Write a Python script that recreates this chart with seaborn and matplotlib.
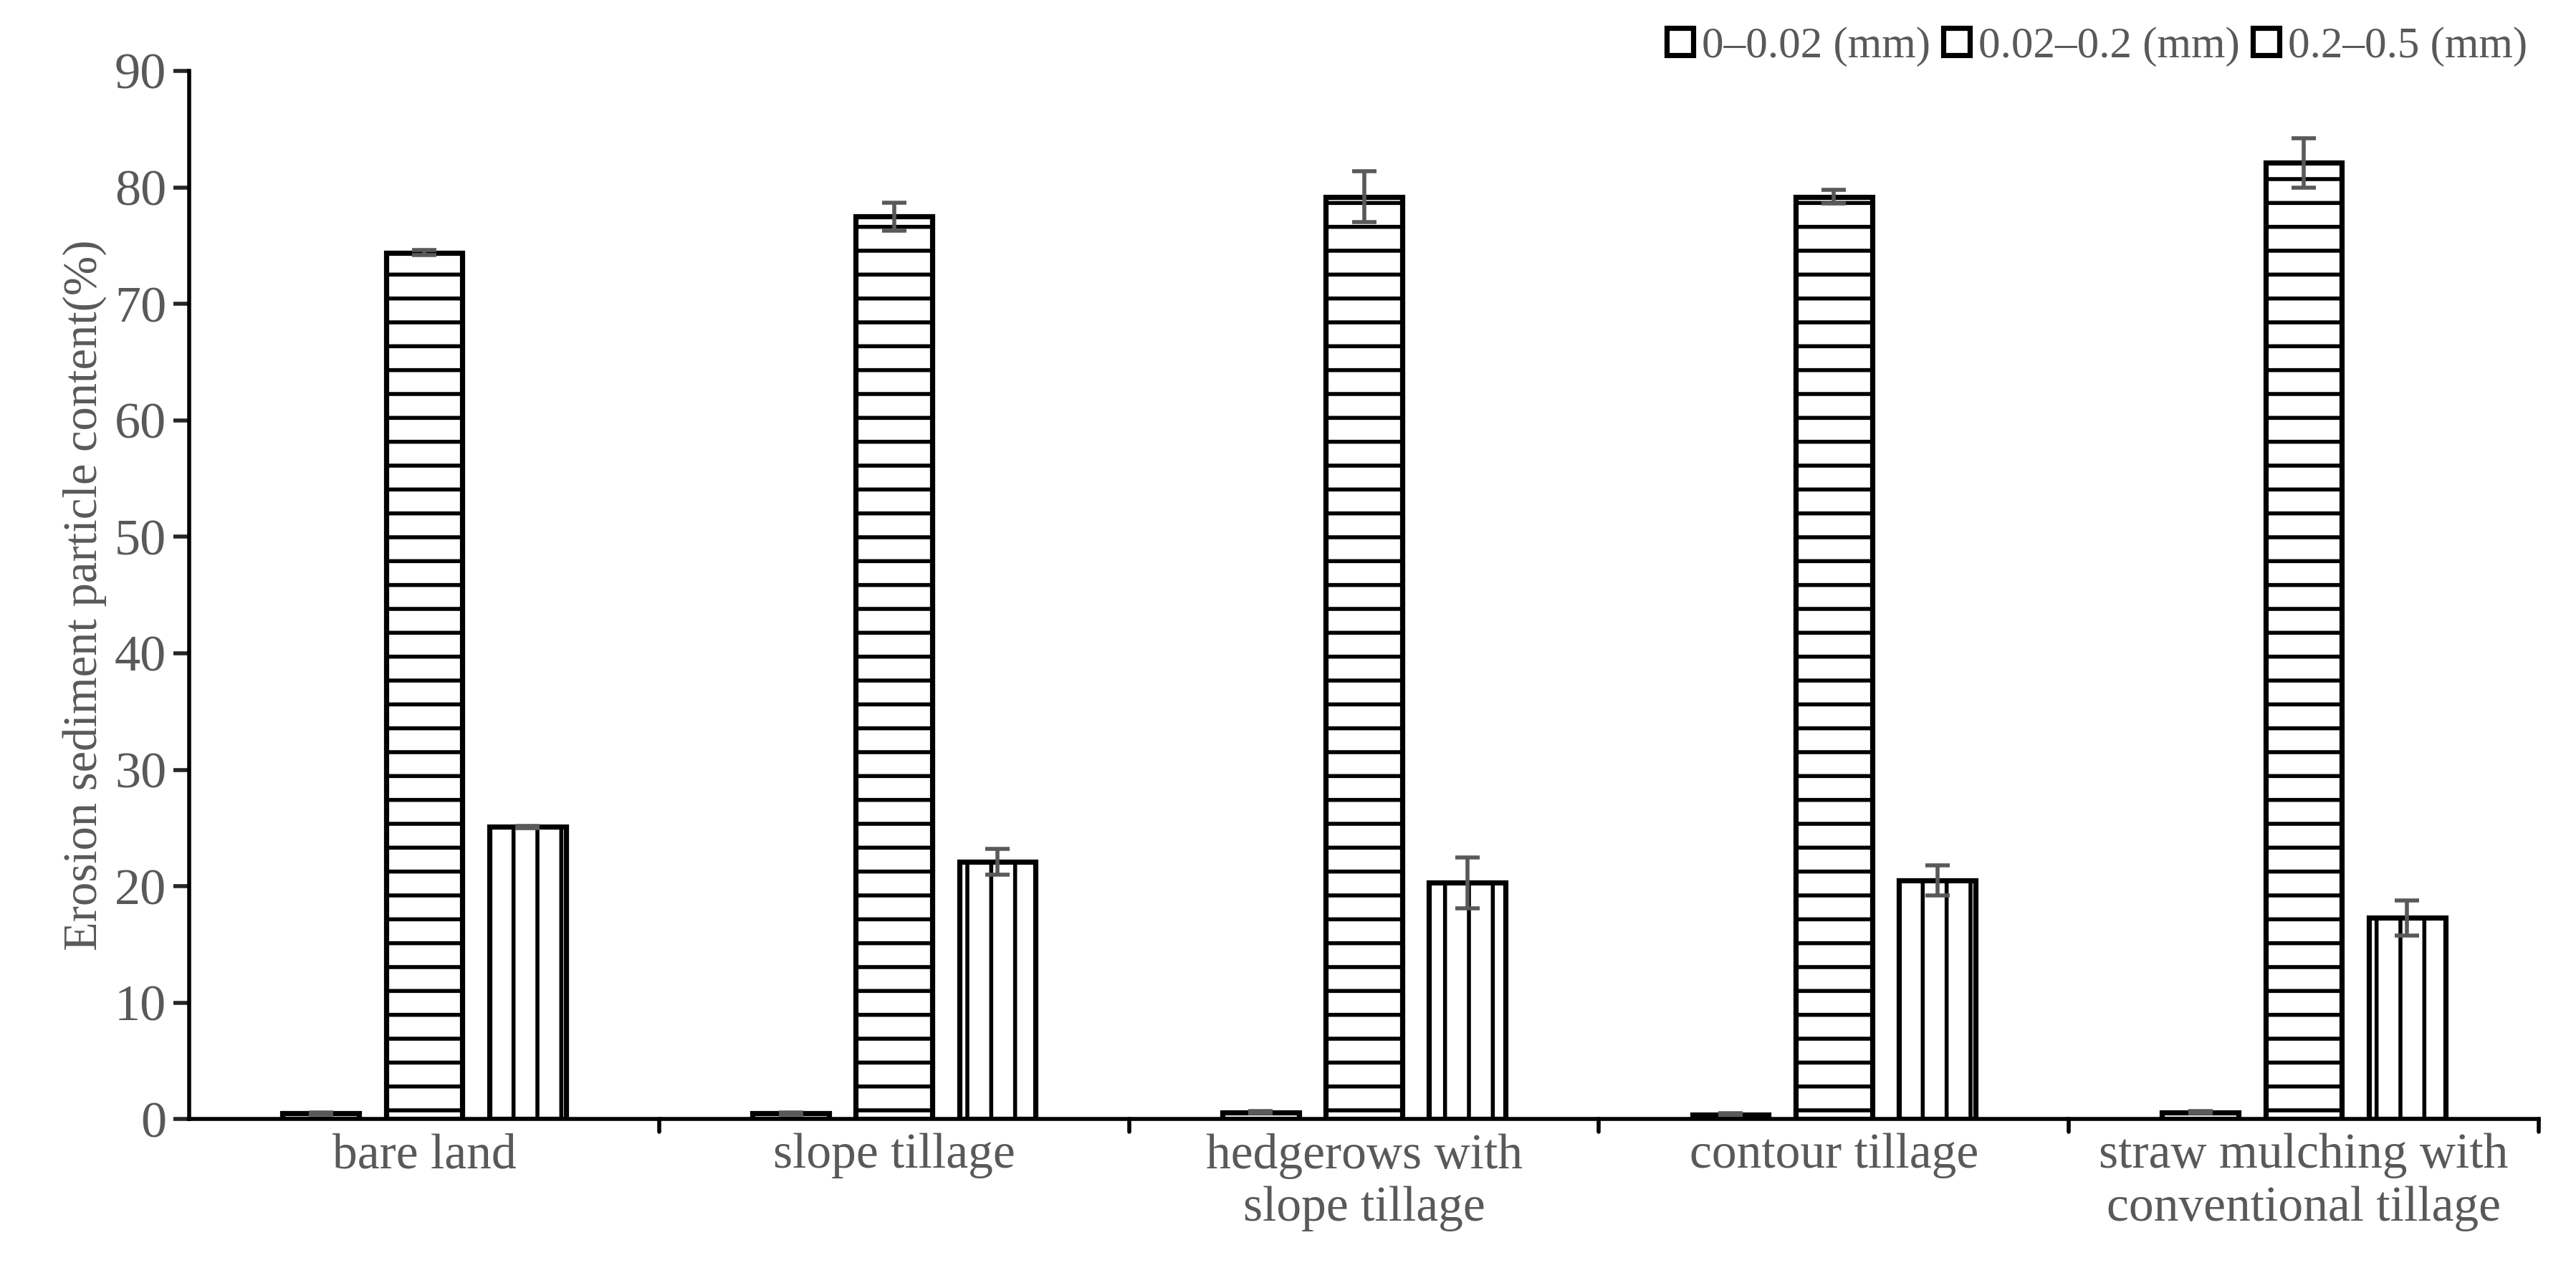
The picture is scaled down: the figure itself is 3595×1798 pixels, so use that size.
import pandas as pd
import seaborn as sns
import matplotlib.pyplot as plt

# Data
treatments = ['bare land', 'slope tillage', 'hedgerows with\nslope tillage',
              'contour tillage', 'straw mulching with\nconventional tillage']
sizes = ['0–0.02 (mm)', '0.02–0.2 (mm)', '0.2–0.5 (mm)']
fine = [0.5, 0.5, 0.6, 0.4, 0.6]
fine_err = [0.1, 0.1, 0.1, 0.1, 0.1]
medium = [74.4, 77.5, 79.2, 79.2, 82.1]
medium_err = [0.2, 1.2, 2.2, 0.6, 2.1]
coarse = [25.1, 22.1, 20.3, 20.5, 17.3]
coarse_err = [0.1, 1.1, 2.2, 1.3, 1.5]

rows = []
for size, vals, errs in zip(sizes, [fine, medium, coarse], [fine_err, medium_err, coarse_err]):
    for t, v, e in zip(treatments, vals, errs):
        rows.append({'Treatment': t, 'Size': size, 'Content': v, 'Err': e})
df = pd.DataFrame(rows)

sns.set_style('white')
plt.rcParams['font.family'] = ['Liberation Serif', 'DejaVu Serif']
plt.rcParams['hatch.linewidth'] = 2.0
grey = '#595959'

fig, ax = plt.subplots(figsize=(17.975, 8.99), dpi=200)
fig.subplots_adjust(left=0.0735, right=0.9855, top=0.945, bottom=0.131)

sns.barplot(data=df, x='Treatment', y='Content', hue='Size', ax=ax,
            palette=['white'] * 3, edgecolor='black', linewidth=2.6,
            width=0.66, gap=0.26, errorbar=None)

hatches = ['', '-', '|']
for container, hatch, size in zip(ax.containers, hatches, sizes):
    errs = df[df['Size'] == size]['Err'].values
    for bar, e in zip(container, errs):
        bar.set_hatch(hatch)
        x = bar.get_x() + bar.get_width() / 2
        ax.errorbar(x, bar.get_height(), yerr=e, color=grey, capsize=6,
                    elinewidth=2, capthick=2, fmt='none')

ax.set_ylim(0, 90)
ax.set_yticks(range(0, 91, 10))
ax.set_xlim(-0.5, 4.5)
ax.set_xlabel('')
ax.set_ylabel('Erosion sediment particle content(%)', fontsize=24, color=grey)
ax.tick_params(axis='y', labelsize=26, labelcolor=grey, left=True, length=8, width=2)
ax.tick_params(axis='x', labelsize=25, labelcolor=grey, bottom=False)
for s in ['top', 'right']:
    ax.spines[s].set_visible(False)
for s in ['left', 'bottom']:
    ax.spines[s].set_color('black')
    ax.spines[s].set_linewidth(2)
# category divider ticks on x axis
for xb in [0.5, 1.5, 2.5, 3.5, 4.5]:
    ax.plot([xb, xb], [0, -1.1], color='black', lw=2, clip_on=False)

handles, labels = ax.get_legend_handles_labels()
ax.legend(handles, labels, loc='upper right', bbox_to_anchor=(1.012, 1.08),
          ncol=3, frameon=False, fontsize=22, labelcolor=grey,
          handlelength=0.6, handleheight=0.6, handletextpad=0.2, columnspacing=0.3)

plt.savefig('out.png', dpi=200)
plt.close()
